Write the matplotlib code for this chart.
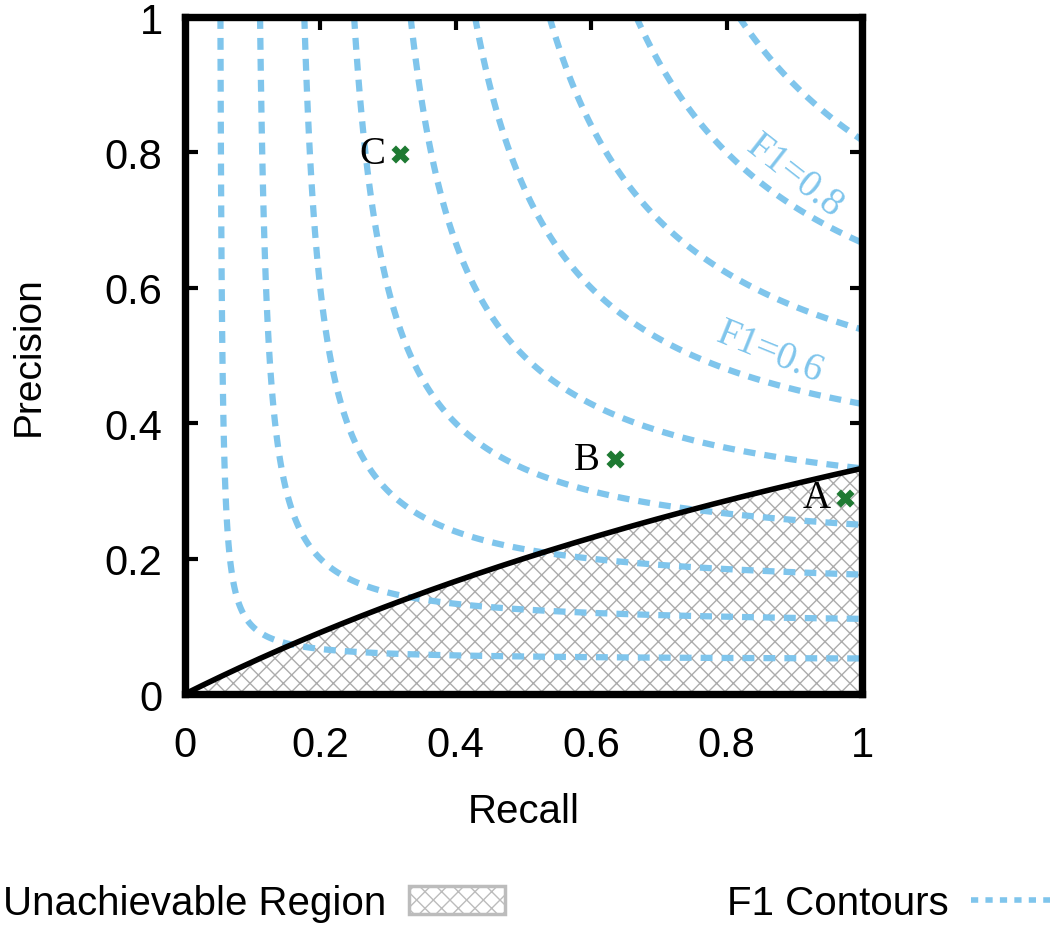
import numpy as np
import matplotlib
matplotlib.use("Agg")
import matplotlib.pyplot as plt
from matplotlib.patches import Patch
from matplotlib.lines import Line2D

# --- data ---
F1_LEVELS = [0.1, 0.2, 0.3, 0.4, 0.5, 0.6, 0.7, 0.8, 0.9]
PRIOR = 1.0 / 3.0  # positive fraction; sets the unachievable region
point_names = ["A", "B", "C"]
point_recall = [0.975, 0.635, 0.318]
point_precision = [0.29, 0.347, 0.798]
contour_labels = ["F1=0.8", "F1=0.6"]
contour_label_x = [0.90, 0.865]
contour_label_y = [0.765, 0.505]
contour_label_rot = [-38, -22]

BLUE = "#7fc5ec"
GREEN = "#1e7a32"
SERIF = ["Liberation Serif", "DejaVu Serif"]

plt.rcParams['font.family'] = ['Liberation Sans', 'DejaVu Sans']
plt.rcParams['hatch.linewidth'] = 1.0
plt.rcParams['hatch.color'] = "#acacac"

fig = plt.figure(figsize=(10.5, 9.28), dpi=100)
ax = fig.add_axes([0.176, 0.251, 0.645, 0.7296])

# F1 contours over precision/recall grid
r = np.linspace(0.001, 1, 600)
p = np.linspace(0.001, 1, 600)
R, P = np.meshgrid(r, p)
F = 2 * P * R / (P + R)
cs = ax.contour(R, P, F, levels=F1_LEVELS, colors=BLUE,
                linewidths=4.5, zorder=3)
cs.set_linestyle((0, (1.9, 1.45)))

# unachievable region (minimum precision for a random classifier)
rr = np.linspace(0, 1, 300)
min_prec = PRIOR * rr / (1 - PRIOR + PRIOR * rr)
ax.fill_between(rr, 0, min_prec, facecolor="white", edgecolor="#acacac",
                hatch="xx", linewidth=0, zorder=2)
ax.plot(rr, min_prec, color="black", lw=4.0, zorder=4)

# labelled points
ax.scatter(point_recall, point_precision, marker="X", s=170, color=GREEN,
           zorder=5, linewidths=0)
for name, x, y in zip(point_names, point_recall, point_precision):
    ax.text(x - 0.022, y, name, ha="right", va="center", fontsize=28,
            family=SERIF, zorder=6)

for txt, x, y, rot in zip(contour_labels, contour_label_x, contour_label_y, contour_label_rot):
    ax.text(x, y, txt, ha="center", va="center", rotation=rot, color=BLUE,
            fontsize=28, family=SERIF, rotation_mode="anchor", zorder=6)

ax.set_xlim(0, 1)
ax.set_ylim(0, 1)
ticks = [0, 0.2, 0.4, 0.6, 0.8, 1]
ticklabels = ["0", "0.2", "0.4", "0.6", "0.8", "1"]
ax.set_xticks(ticks)
ax.set_xticklabels(ticklabels)
ax.set_yticks(ticks)
ax.set_yticklabels(ticklabels)
ax.tick_params(direction="in", length=9, width=3, labelsize=30,
               top=True, right=True, pad=16)
ax.tick_params(axis="x", pad=22)
for s in ax.spines.values():
    s.set_linewidth(5.3)
    s.set_zorder(7)
ax.set_xlabel("Recall", fontsize=29, labelpad=20)
ax.set_ylabel("Precision", fontsize=28, labelpad=42)

handles = [Patch(facecolor="white", edgecolor="#bcbcbc", hatch="xx", linewidth=2.5),
           Line2D([0], [0], color=BLUE, lw=4.0, linestyle=(0, (1.3, 1.3)))]
fig.legend(handles, ["Unachievable Region", "F1 Contours"], loc="lower center",
           bbox_to_anchor=(0.51, -0.012), ncol=2, markerfirst=False, frameon=False,
           fontsize=29, handlelength=2.4, handleheight=0.7, handletextpad=0.55,
           columnspacing=5.5, borderaxespad=0.0)

fig.savefig("out.png", dpi=100)
